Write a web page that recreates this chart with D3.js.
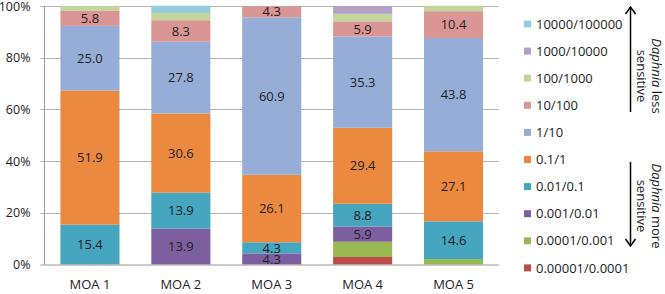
<!DOCTYPE html>
<html>
<head>
<meta charset="utf-8">
<script src="https://cdn.jsdelivr.net/npm/d3@7"></script>
<style>
  body { margin: 0; background: #fff; }
  text { font-family: "Open Sans", sans-serif; }
</style>
</head>
<body>
<svg id="chart" width="665" height="294"></svg>
<script>
// categories and series (percent of species in each ratio class)
var categories = ['MOA 1', 'MOA 2', 'MOA 3', 'MOA 4', 'MOA 5'];
var seriesNames = ['0.00001/0.0001', '0.0001/0.001', '0.001/0.01', '0.01/0.1', '0.1/1',
                   '1/10', '10/100', '100/1000', '1000/10000', '10000/100000'];
var r00001 = [0, 0, 0, 2.9, 0];
var r0001 = [0, 0, 0, 5.9, 2.1];
var r001 = [0, 13.9, 4.3, 5.9, 0];
var r01 = [15.4, 13.9, 4.3, 8.8, 14.6];
var r1 = [51.9, 30.6, 26.1, 29.4, 27.1];
var r10 = [25.0, 27.8, 60.9, 35.3, 43.8];
var r100 = [5.8, 8.3, 4.3, 5.9, 10.4];
var r1000 = [1.9, 2.8, 0, 2.9, 2.1];
var r10000 = [0, 0, 0, 2.9, 0];
var r100000 = [0, 2.8, 0, 0, 0];
var seriesValues = [r00001, r0001, r001, r01, r1, r10, r100, r1000, r10000, r100000];
var colors = ['#BE4B48', '#98B954', '#7D5FA0', '#46A5BF', '#EB8A3F',
              '#95ADD7', '#D99695', '#C3D69B', '#B3A2C7', '#93CDDD'];
var labelled = ['0.001/0.01', '0.01/0.1', '0.1/1', '1/10', '10/100'];
var yTicks = [0, 20, 40, 60, 80, 100];

var svg = d3.select('#chart');
var plotLeft = 44.5, plotRight = 499, plotTop = 6, plotBottom = 264.5;

var rows = categories.map(function (c, i) {
  var row = { cat: c };
  seriesNames.forEach(function (s, j) { row[s] = seriesValues[j][i]; });
  return row;
});
var stacked = d3.stack().keys(seriesNames)(rows);

var x = d3.scaleBand().domain(categories).range([plotLeft, plotRight])
  .paddingInner(0.35).paddingOuter(0.175);
var y = d3.scaleLinear().domain([0, 100]).range([plotBottom, plotTop]);
var color = d3.scaleOrdinal().domain(seriesNames).range(colors);

// gridlines
svg.append('g').selectAll('line').data(yTicks.slice(1)).enter().append('line')
  .attr('x1', plotLeft - 4).attr('x2', plotRight)
  .attr('y1', function (d) { return Math.round(y(d)) + 0.5; })
  .attr('y2', function (d) { return Math.round(y(d)) + 0.5; })
  .attr('stroke', '#B3B3B3').attr('stroke-width', 1);

// bars
var layer = svg.append('g').selectAll('g').data(stacked).enter().append('g')
  .attr('fill', function (d) { return color(d.key); });
layer.selectAll('rect').data(function (d) { return d; }).enter().append('rect')
  .attr('x', function (d) { return x(d.data.cat); })
  .attr('width', x.bandwidth())
  .attr('y', function (d) { return y(d[1]); })
  .attr('height', function (d) { return y(d[0]) - y(d[1]); });

// segment labels
stacked.forEach(function (s) {
  if (labelled.indexOf(s.key) < 0) return;
  svg.append('g').selectAll('text').data(s.filter(function (d) { return d[1] - d[0] > 0; }))
    .enter().append('text')
    .attr('x', function (d) { return x(d.data.cat) + x.bandwidth() / 2; })
    .attr('y', function (d) { return (y(d[0]) + y(d[1])) / 2; })
    .attr('dy', '0.36em')
    .attr('text-anchor', 'middle')
    .attr('font-size', 13)
    .attr('fill', '#1f1f1f')
    .text(function (d) { return (d[1] - d[0]).toFixed(1); });
});

// axes
svg.append('line').attr('x1', plotLeft).attr('x2', plotLeft).attr('y1', plotTop).attr('y2', plotBottom)
  .attr('stroke', '#9A9A9A');
svg.append('line').attr('x1', plotLeft - 4).attr('x2', plotRight).attr('y1', plotBottom + 0.5).attr('y2', plotBottom + 0.5)
  .attr('stroke', '#9A9A9A');

svg.append('g').selectAll('text').data(yTicks).enter().append('text')
  .attr('x', plotLeft - 14).attr('y', function (d) { return y(d); })
  .attr('dy', '0.36em').attr('text-anchor', 'end').attr('font-size', 12.5)
  .attr('fill', '#222').text(function (d) { return d + '%'; });

svg.append('g').selectAll('text').data(categories).enter().append('text')
  .attr('x', function (d) { return x(d) + x.bandwidth() / 2; })
  .attr('y', 289).attr('text-anchor', 'middle').attr('font-size', 13)
  .attr('fill', '#222').text(function (d) { return d; });

// legend (top item first)
var legendItems = seriesNames.slice().reverse();
var lg = svg.append('g').selectAll('g').data(legendItems).enter().append('g')
  .attr('transform', function (d, i) { return 'translate(524,' + (24 + i * 27.1) + ')'; });
lg.append('rect').attr('x', 0).attr('y', -3.5).attr('width', 7).attr('height', 7)
  .attr('fill', function (d) { return color(d); });
lg.append('text').attr('x', 12).attr('dy', '0.36em').attr('font-size', 13)
  .attr('fill', '#222').text(function (d) { return d; });

// sensitivity arrows
function arrow(x0, y0, y1) {
  var dir = y1 < y0 ? 1 : -1;
  svg.append('line').attr('x1', x0).attr('x2', x0).attr('y1', y0).attr('y2', y1)
    .attr('stroke', '#000').attr('stroke-width', 1.5);
  svg.append('path')
    .attr('d', 'M' + (x0 - 5) + ',' + (y1 + dir * 7) + 'L' + x0 + ',' + y1 + 'L' + (x0 + 5) + ',' + (y1 + dir * 7))
    .attr('fill', 'none').attr('stroke', '#000').attr('stroke-width', 1.5);
}
arrow(630.5, 112, 7);
arrow(630.5, 162, 246);

function sideNote(cy, word) {
  var g = svg.append('g').attr('transform', 'translate(650,' + cy + ') rotate(90)');
  var t = g.append('text').attr('text-anchor', 'middle').attr('y', -2).attr('font-size', 13).attr('fill', '#222');
  t.append('tspan').attr('font-style', 'italic').text('Daphnia');
  t.append('tspan').text(' ' + word);
  g.append('text').attr('text-anchor', 'middle').attr('y', 13).attr('font-size', 13).attr('fill', '#222')
    .text('sensitive');
}
sideNote(76, 'less');
sideNote(206, 'more');
</script>
</body>
</html>
